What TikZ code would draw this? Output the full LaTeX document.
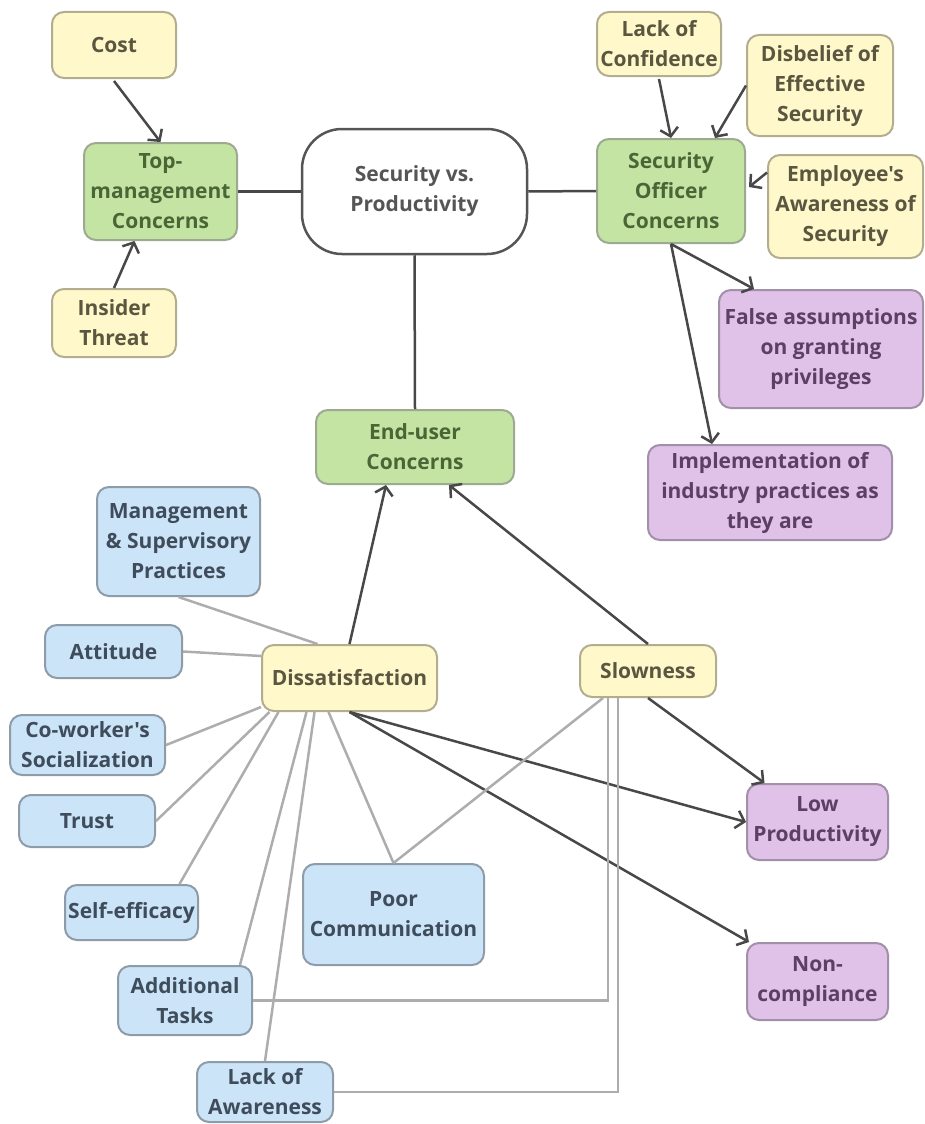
\documentclass[tikz,border=0pt]{standalone}
\usepackage{fontspec}
\setmainfont{Open Sans}[Ligatures=TeXOff]
\usetikzlibrary{arrows.meta}

\definecolor{yfill}{HTML}{FFF8CB}
\definecolor{ydraw}{HTML}{B3AD8F}
\definecolor{ytext}{HTML}{5A5640}
\definecolor{gfill}{HTML}{C4E4A4}
\definecolor{gdraw}{HTML}{9DAA92}
\definecolor{gtext}{HTML}{4A6636}
\definecolor{bfill}{HTML}{CCE4F7}
\definecolor{bdraw}{HTML}{8E9BA8}
\definecolor{btext}{HTML}{3E4C5B}
\definecolor{pfill}{HTML}{E0C1E8}
\definecolor{pdraw}{HTML}{A28FA8}
\definecolor{ptext}{HTML}{5C3F66}
\definecolor{hub}{HTML}{555555}
\definecolor{darkline}{HTML}{484848}
\definecolor{greyline}{HTML}{ADADAD}

\tikzset{
  box/.style={draw, rounded corners=12pt, line width=2pt, align=center,
    inner sep=2pt, font=\fontsize{21}{30}\selectfont\bfseries},
  ybox/.style={box, fill=yfill, draw=ydraw, text=ytext},
  gbox/.style={box, fill=gfill, draw=gdraw, text=gtext},
  bbox/.style={box, fill=bfill, draw=bdraw, text=btext},
  pbox/.style={box, fill=pfill, draw=pdraw, text=ptext},
  hubbox/.style={box, rounded corners=40pt, fill=white, draw=hub, text=hub, line width=2.5pt},
  sz/.style 2 args={minimum width=#1pt, minimum height=#2pt},
  cause/.style={draw=darkline, line width=2.5pt, -{Straight Barb[length=8pt,width=18pt]}},
  link/.style={draw=darkline, line width=2.5pt},
  factor/.style={draw=greyline, line width=2.5pt},
}

\begin{document}
\begin{tikzpicture}[x=1pt, y=-1pt]
\useasboundingbox (0,0) rectangle (925,1124);

% central topic and the three concern groups
\node[hubbox, sz={225}{125}] (svp) at (414.5,191.5) {Security vs.\\Productivity};
\node[gbox, sz={153}{97}] (top) at (160.5,191.5) {Top-\\management\\Concerns};
\node[gbox, sz={148}{104}] (soc) at (671,191) {Security\\Officer\\Concerns};
\node[gbox, sz={198}{74}] (eu) at (415,447) {End-user\\Concerns};

% top-management drivers
\node[ybox, sz={124}{66}] (cost) at (114,45) {Cost};
\node[ybox, sz={124}{68}] (ins) at (114,323) {Insider\\Threat};

% security officer drivers
\node[ybox, sz={124}{64}] (loc) at (659,44) {Lack of\\Confidence};
\node[ybox, sz={146}{101}] (dis) at (820,85.5) {Disbelief of\\Effective\\Security};
\node[ybox, sz={155}{103}] (emp) at (845.5,206.5) {Employee's\\Awareness of\\Security};

% security officer outcomes
\node[pbox, sz={204}{118}] (fa) at (821,349) {False assumptions\\on granting\\privileges};
\node[pbox, sz={244}{95}] (impl) at (770,492.5) {Implementation of\\industry practices as\\they are};

% end-user issues
\node[ybox, sz={175}{66}] (dsat) at (349.5,678) {Dissatisfaction};
\node[ybox, sz={136}{52}] (slow) at (648,671) {Slowness};

% contributing factors
\node[bbox, sz={163}{109}] (mgmt) at (178.5,541.5) {Management\\\& Supervisory\\Practices};
\node[bbox, sz={137}{53}] (att) at (113.5,651.5) {Attitude};
\node[bbox, sz={155}{60}] (cow) at (87.5,745) {Co-worker's\\Socialization};
\node[bbox, sz={136}{52}] (trust) at (87,821) {Trust};
\node[bbox, sz={133}{55}] (self) at (131.5,912.5) {Self-efficacy};
\node[bbox, sz={181}{101}] (pc) at (393.5,914.5) {Poor\\Communication};
\node[bbox, sz={134}{69}] (add) at (185,1000.5) {Additional\\Tasks};
\node[bbox, sz={136}{60}] (law) at (265,1092) {Lack of\\Awareness};

% end-user outcomes
\node[pbox, sz={141}{76}] (lp) at (817.5,822) {Low\\Productivity};
\node[pbox, sz={141}{77}] (nc) at (817.5,981.5) {Non-\\compliance};

% plain links from the central topic
\draw[link] (top.east) -- (svp.west);
\draw[link] (svp.east) -- (soc.west);
\draw[link] (svp.south) -- (eu.north);

% arrows into the concern groups
\draw[cause] ([yshift=-2pt]cost.south) -- (top.north);
\draw[cause] (ins.north) -- ([xshift=-26pt]top.south);
\draw[cause] ([yshift=-2pt]loc.south) -- (soc.north);
\draw[cause] (dis.west) -- ([xshift=44pt]soc.north);
\draw[cause] ([yshift=34pt]emp.west) -- ([xshift=3pt,yshift=4pt]soc.east);
\draw[cause] (soc.south) -- ([xshift=-67pt]fa.north);
\draw[cause] (soc.south) -- ([xshift=-58pt]impl.north);
\draw[cause] (dsat.north) -- ([xshift=-29pt]eu.south);
\draw[cause] (slow.north) -- ([xshift=34pt]eu.south);
\draw[cause] (dsat.south) -- (lp.west);
\draw[cause] (dsat.south) -- ([xshift=3pt]nc.north west);
\draw[cause] (slow.south) -- ([xshift=-53pt]lp.north);

% factor links
\draw[factor] (mgmt.south) -- ([xshift=-32pt]dsat.north);
\draw[factor] (att.east) -- ([yshift=22pt]dsat.west);
\draw[factor] (cow.east) -- ([yshift=-29pt]dsat.west);
\draw[factor] (trust.east) -- ([xshift=-80pt]dsat.south);
\draw[factor] ([xshift=48pt]self.north) -- ([xshift=-71pt]dsat.south);
\draw[factor] ([xshift=55pt]add.north) -- ([xshift=-43pt]dsat.south);
\draw[factor] (law.north) -- ([xshift=-35pt]dsat.south);
\draw[factor] (pc.north) -- ([xshift=-21pt]dsat.south);
\draw[factor] (pc.north) -- ([xshift=-45pt]slow.south);
\draw[factor] (add.east) -| ([xshift=-40pt]slow.south);
\draw[factor] (law.east) -| ([xshift=-30pt]slow.south);
\end{tikzpicture}
\end{document}
